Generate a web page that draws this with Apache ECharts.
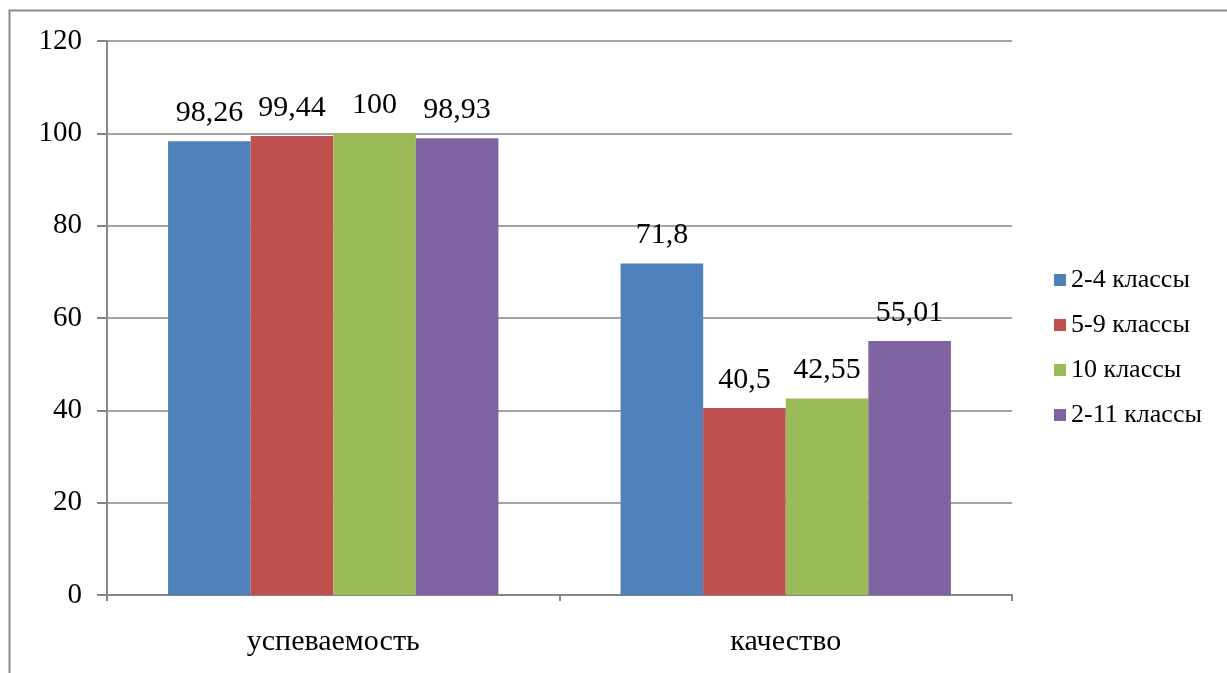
<!DOCTYPE html>
<html><head><meta charset="utf-8">
<script src="https://cdn.jsdelivr.net/npm/echarts@6/dist/echarts.min.js"></script>
<style>html,body{margin:0;padding:0;background:#fff}#c{width:1227px;height:673px}</style>
</head><body><div id="c"></div>
<script>
const categories = ['успеваемость', 'качество'];
const seriesNames = ['2-4 классы', '5-9 классы', '10 классы', '2-11 классы'];
const s24 = [98.26, 71.8];
const s59 = [99.44, 40.5];
const s10 = [100, 42.55];
const s211 = [98.93, 55.01];
const colors = ['#4F81BD', '#C0504D', '#9BBB59', '#8064A2'];
const yTicks = [0, 20, 40, 60, 80, 100, 120];

const font = 'Liberation Serif';
const values = [s24, s59, s10, s211];
const chart = echarts.init(document.getElementById('c'));
chart.setOption({
  animation: false,
  textStyle: { fontFamily: font },
  graphic: [{
    type: 'rect', shape: { x: 9.5, y: 10.5, width: 1300, height: 800 },
    style: { fill: 'none', stroke: '#8c8c8c', lineWidth: 2 }, silent: true
  }],
  grid: { left: 107, right: 215, top: 41, bottom: 78, containLabel: false },
  legend: {
    orient: 'vertical', left: 1049, top: 262, itemWidth: 12, itemHeight: 12,
    itemGap: 19, icon: 'rect',
    textStyle: { fontFamily: font, fontSize: 26, color: '#000' },
    data: seriesNames
  },
  xAxis: {
    type: 'category', data: categories,
    axisLine: { lineStyle: { color: '#868686', width: 2 } },
    axisTick: { show: true, length: 6, lineStyle: { color: '#868686', width: 2 } },
    axisLabel: { fontFamily: font, fontSize: 30, color: '#000', margin: 32 }
  },
  yAxis: {
    type: 'value', min: 0, max: 120, interval: 20,
    axisLine: { show: true, lineStyle: { color: '#868686', width: 2 } },
    axisTick: { show: true, length: 10, lineStyle: { color: '#868686', width: 2 } },
    axisLabel: { fontFamily: font, fontSize: 29, color: '#000', margin: 25,
      formatter: v => yTicks.includes(v) ? String(v) : '' },
    splitLine: { lineStyle: { color: '#868686', width: 1.5 } }
  },
  series: seriesNames.map((n, i) => ({
    name: n, type: 'bar', data: values[i],
    barGap: '0%', barCategoryGap: '27%',
    itemStyle: { color: colors[i] },
    label: { show: true, position: 'top', distance: 13, fontFamily: font, fontSize: 30, color: '#000',
      formatter: p => String(p.value).replace('.', ',') }
  }))
});
</script></body></html>
